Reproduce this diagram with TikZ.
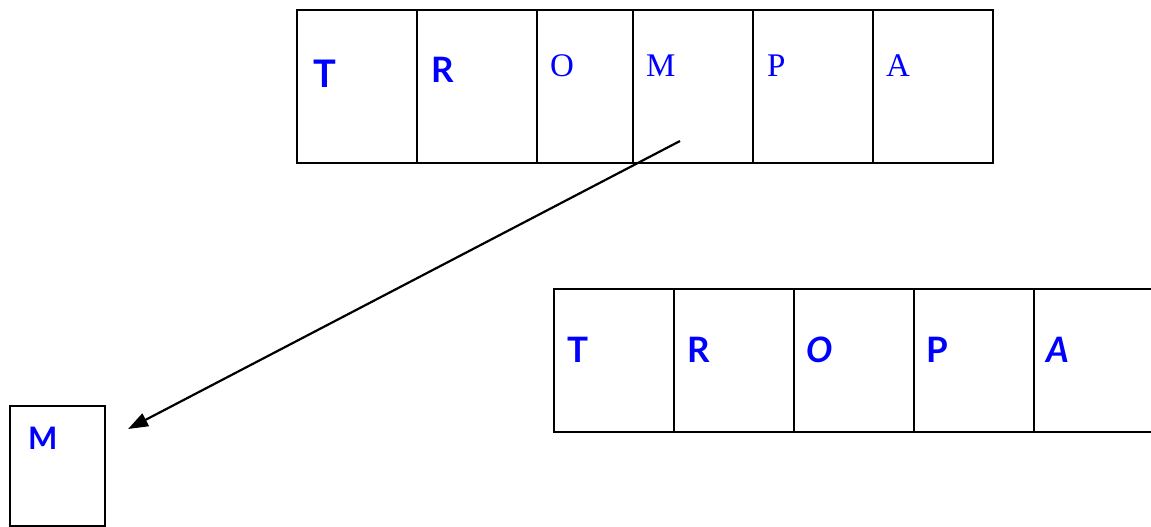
\documentclass[tikz,border=0pt]{standalone}
\usepackage{fontspec}
\setmainfont{Liberation Serif}
\newfontfamily\handfont{Lato}
\usetikzlibrary{arrows.meta}
\definecolor{letterblue}{RGB}{0,0,255}
\tikzset{
  cell/.style={draw=black, line width=2.4pt, rectangle, inner sep=0pt, anchor=north west},
  wide/.style={cell, minimum width=120pt, minimum height=153pt},
  narrow/.style={cell, minimum width=96pt, minimum height=153pt},
  lowcell/.style={cell, minimum width=120pt, minimum height=143pt},
  letter/.style={text=letterblue, inner sep=0pt, anchor=base west},
  hand/.style={letter, font=\handfont\bfseries\fontsize{35}{35}\selectfont},
  handit/.style={letter, font=\handfont\bfseries\itshape\fontsize{35}{35}\selectfont},
  handbig/.style={letter, font=\handfont\bfseries\fontsize{38}{38}\selectfont},
  serif/.style={letter, font=\fontsize{33}{33}\selectfont},
  move/.style={line width=2.2pt, -{Triangle[length=20pt,width=14pt]}}
}
\begin{document}
\begin{tikzpicture}[x=1pt, y=-1pt]
\useasboundingbox (0,0) rectangle (1151,527);
\clip (0,0) rectangle (1151,527);

% word before the move
\node[wide]   (t1) at (296,9) {};
\node[wide]   (r1) at (416,9) {};
\node[narrow] (o1) at (536,9) {};
\node[wide]   (m1) at (632,9) {};
\node[wide]   (p1) at (752,9) {};
\node[wide]   (a1) at (872,9) {};

\node[handbig] (lt1) at (313,87) {T};
\node[hand]    (lr1) at (431,82) {R};
\node[serif]   (lo1) at (550,77) {O};
\node[serif]   (lm1) at (646,77) {M};
\node[serif]   (lp1) at (767,77) {P};
\node[serif]   (la1) at (886,77) {A};

% word after the move
\node[lowcell] (t2) at (553,288) {};
\node[lowcell] (r2) at (673,288) {};
\node[lowcell] (o2) at (793,288) {};
\node[lowcell] (p2) at (913,288) {};
\node[lowcell] (a2) at (1033,288) {};

\node[hand]   (lt2) at (567,362) {T};
\node[hand]   (lr2) at (687,362) {R};
\node[handit] (lo2) at (806,362) {O};
\node[hand]   (lp2) at (926,362) {P};
\node[handit] (la2) at (1046,362) {A};

% removed letter
\node[cell, minimum width=95pt, minimum height=120pt] (mbox) at (9,405) {};
\node[hand, font=\handfont\bfseries\fontsize{31}{31}\selectfont] (lm2) at (28,449) {M};

% arrow from the M cell to the removed letter
\coordinate (mfrom) at (680,141);
\coordinate (mto) at (128,429);
\draw[move] (mfrom) -- (mto);
\end{tikzpicture}
\end{document}
